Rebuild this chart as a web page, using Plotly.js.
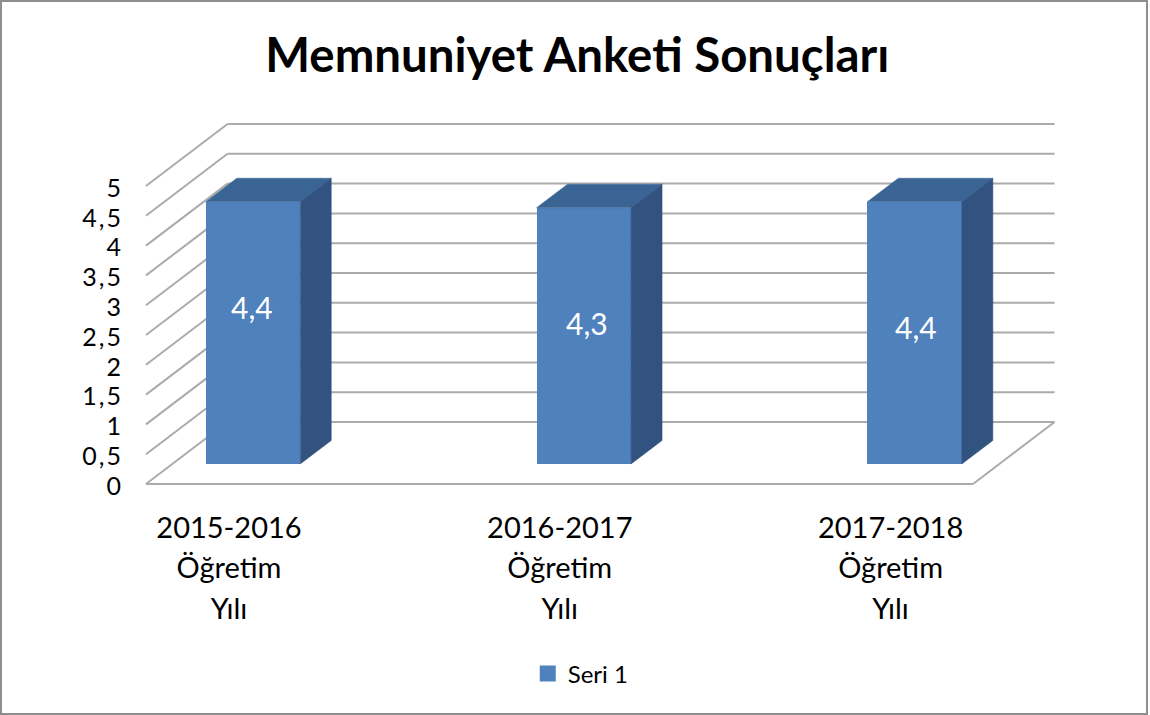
<!DOCTYPE html>
<html>
<head>
<meta charset="utf-8">
<script src="https://cdn.plot.ly/plotly-3.0.1.min.js"></script>
<style>
html,body{margin:0;padding:0;background:#fff;overflow:hidden}
#chart{position:absolute;left:0;top:0;width:1150px;height:715px}
#frame{position:absolute;left:0;top:0;width:1148px;height:715px;box-sizing:border-box;border:2px solid #8e8e8e;pointer-events:none}
.ytick text{letter-spacing:2px}
</style>
</head>
<body>
<div id="chart"></div>
<div id="frame"></div>
<script>
// Data
const categories = ['2015-2016 Öğretim Yılı', '2016-2017 Öğretim Yılı', '2017-2018 Öğretim Yılı'];
const categoryLines = [['2015-2016','Öğretim','Yılı'],['2016-2017','Öğretim','Yılı'],['2017-2018','Öğretim','Yılı']];
const values = [4.4, 4.3, 4.4];
const seriesName = 'Seri 1';
const yTicks = [0, 0.5, 1, 1.5, 2, 2.5, 3, 3.5, 4, 4.5, 5];
const chartTitle = 'Memnuniyet Anketi Sonuçları';

// Pseudo-3D projection, in axis units
const xLeft = -0.2509, xRight = 2.2491;
const wallDX = 0.2465, wallDY = 1.04;
const barShift = 0.0726, barWidth = 0.2857, barBase = 0.336;
const barDX = 0.0937, barDY = 0.394;
const labelDX = [0.0695, 0.0816, 0.0755];
const labelY = [2.97, 2.70, 2.634];

const colFront = '#4F81BD', colTop = '#3A6494', colSide = '#325380', colGrid = '#ABABAB';
const indexes = categories.map((_, i) => i);

const shapes = [];
const seg = (x0, y0, x1, y1) => shapes.push({type:'line', layer:'below', xref:'x', yref:'y', x0, y0, x1, y1, line:{color:colGrid, width:2}});
yTicks.forEach(t => {
  seg(xLeft, t, xLeft + wallDX, t + wallDY);
  seg(xLeft + wallDX, t + wallDY, xRight + wallDX, t + wallDY);
});
seg(xLeft, 0, xRight, 0);
seg(xRight, 0, xRight + wallDX, wallDY);

const front = {
  type:'bar', name:seriesName, showlegend:false,
  x: indexes.map(i => i + barShift), y: values, base: values.map(() => barBase),
  width: barWidth, marker:{color:colFront, line:{width:0}}, hoverinfo:'skip'
};
const face = (xs, ys, color) => ({
  type:'scatter', mode:'lines', x:xs, y:ys, fill:'toself', fillcolor:color,
  line:{color:color, width:0.5}, showlegend:false, hoverinfo:'skip'
});
const faces = [];
values.forEach((v, i) => {
  const l = i + barShift - barWidth / 2, r = i + barShift + barWidth / 2, top = barBase + v;
  faces.push(face([l, l + barDX, r + barDX, r, l], [top, top + barDY, top + barDY, top, top], colTop));
  faces.push(face([r, r + barDX, r + barDX, r, r], [top, top + barDY, barBase + barDY, barBase, top], colSide));
});
const legendEntry = {
  type:'scatter', mode:'markers', name:seriesName, x:[null], y:[null],
  marker:{symbol:'square', size:16, color:colFront}, hoverinfo:'skip'
};

const annotations = values.map((v, i) => ({
  x: i + labelDX[i], y: labelY[i], xref:'x', yref:'y', showarrow:false,
  text: String(v).replace('.', ','), font:{family:'Lato', size:30, color:'#ffffff'}
}));

const layout = {
  width:1150, height:715, autosize:false,
  paper_bgcolor:'#ffffff', plot_bgcolor:'rgba(0,0,0,0)',
  separators:',.',
  margin:{l:144, r:90, t:120, b:228},
  title:{text:chartTitle, font:{family:'Lato', size:47.4, color:'#000000', weight:700}, x:0.502, xref:'container', xanchor:'center', y:0.923, yanchor:'middle'},
  xaxis:{
    range:[-0.2569, 2.5121], fixedrange:true, showgrid:false, zeroline:false, showline:false,
    tickmode:'array', tickvals:indexes,
    ticktext:categoryLines.map(ls => ls.map(s => '<span style="font-size:29px">' + s + '</span>').join('<br>')),
    ticks:'', ticklabelstandoff:18, tickangle:0,
    tickfont:{family:'Lato', size:31.5, color:'#000000'}
  },
  yaxis:{
    range:[-0.0503, 6.107], fixedrange:true, showgrid:false, zeroline:false, showline:false,
    tickmode:'array', tickvals:yTicks, ticks:'', ticklabelstandoff:20, ticklabelshift:2,
    tickfont:{family:'Lato', size:25, color:'#000000'}
  },
  bargap:0,
  shapes, annotations,
  showlegend:true,
  legend:{orientation:'h', x:0.505, xref:'container', xanchor:'center', y:0.0575, yref:'container', yanchor:'middle',
    font:{family:'Lato', size:24, color:'#000000'}, bgcolor:'rgba(0,0,0,0)', itemsizing:'trace'}
};
Plotly.newPlot('chart', [front, ...faces, legendEntry], layout, {displayModeBar:false, staticPlot:true});
</script>
</body>
</html>
